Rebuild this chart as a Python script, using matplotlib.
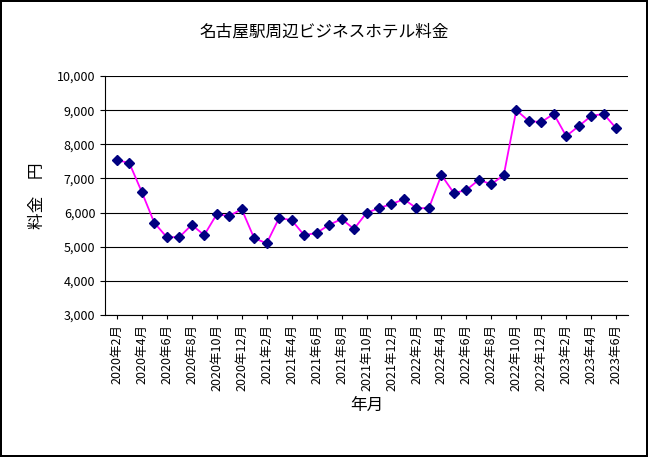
import matplotlib
matplotlib.use("Agg")
import matplotlib.pyplot as plt

plt.rcParams["font.family"] = ["Noto Sans CJK JP", "DejaVu Sans"]

months = []
for y in range(2020, 2024):
    for m in range(1, 13):
        if (y == 2020 and m < 2) or (y == 2023 and m > 6):
            continue
        months.append(f"{y}年{m}月")

prices = [7540, 7450, 6600, 5700, 5280, 5280, 5640, 5340, 5950, 5900, 6100,
          5250, 5100, 5840, 5780, 5340, 5400, 5640, 5810, 5520, 5990, 6130, 6250,
          6390, 6130, 6130, 7100, 6570, 6660, 6960, 6830, 7100, 9000, 8680, 8650,
          8890, 8240, 8530, 8830, 8890, 8470]

fig = plt.figure(figsize=(6.48, 4.57), dpi=100)
fig.patch.set_edgecolor("black")
fig.patch.set_linewidth(1.5)
ax = fig.add_axes([105/648, 1-315/457, (628-105)/648, (315-76)/457])
x = list(range(len(months)))
ax.plot(x, prices, color="#ff00ff", lw=1.3, marker="D", ms=5.5,
        markerfacecolor="#000080", markeredgecolor="#000080", zorder=3)
ax.set_ylim(3000, 10000)
ax.set_xlim(-0.95, len(months) - 0.05)
ax.set_yticks(range(3000, 10001, 1000))
ax.set_yticklabels([f"{v:,}" for v in range(3000, 10001, 1000)], fontsize=9)
ax.set_xticks(x[::2])
ax.set_xticklabels(months[::2], rotation=90, fontsize=9)
ax.yaxis.grid(True, color="black", lw=0.8)
ax.set_axisbelow(True)
for s in ["top", "right"]:
    ax.spines[s].set_visible(False)
ax.tick_params(axis="x", length=3)
fig.text(0.5, 1-32/457, "名古屋駅周辺ビジネスホテル料金", fontsize=12,
         ha="center", va="center")
ax.set_xlabel("年月", fontsize=12)
ax.set_ylabel("料金　円", fontsize=12, labelpad=8)
fig.savefig("out.png", dpi=100)
